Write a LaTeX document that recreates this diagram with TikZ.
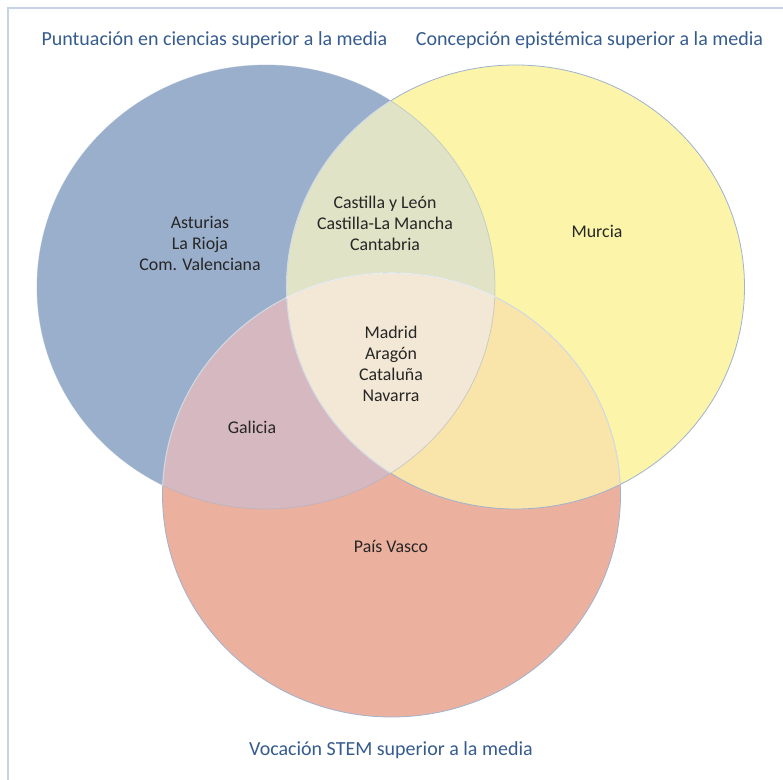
\documentclass[tikz,border=0pt]{standalone}
\usepackage{fontspec}
\setmainfont{Carlito}
\begin{document}
\begin{tikzpicture}[x=0.75pt,y=-0.75pt,
  lbl/.style={text=black!85,font=\fontsize{13.4}{15.75}\selectfont,align=center,inner sep=0pt},
  ttl/.style={text=titleblue,font=\fontsize{15}{18}\selectfont,inner sep=0pt},
  rim/.style={draw=rimcol,line width=0.6pt}]
\definecolor{titleblue}{HTML}{365C8F}
\definecolor{cB}{HTML}{9AAFCB}
\definecolor{cY}{HTML}{FCF5A9}
\definecolor{cR}{HTML}{ECB09E}
\definecolor{cBY}{HTML}{E0E3C5}
\definecolor{cBR}{HTML}{D6B9C0}
\definecolor{cYR}{HTML}{F9E4A9}
\definecolor{cBYR}{HTML}{F3E8D5}
\definecolor{rimcol}{HTML}{9FB3CE}
\definecolor{framecol}{HTML}{C8D3E6}
\useasboundingbox (0,0) rectangle (783,780);
\fill[white] (0,0) rectangle (783,780);
\draw[framecol,line width=1.2pt] (8,780) -- (8,8) -- (783,8);
\def\Bp{(266,287) ellipse [x radius=171.75pt,y radius=166.5pt]}
\def\Yp{(515.5,287) ellipse [x radius=171.75pt,y radius=166.5pt]}
\def\Rp{(391.5,495) ellipse [x radius=171.75pt,y radius=166.5pt]}
\fill[cB] \Bp;
\fill[cY] \Yp;
\fill[cR] \Rp;
\begin{scope}\clip \Bp; \fill[cBY] \Yp; \fill[cBR] \Rp; \end{scope}
\begin{scope}\clip \Yp; \fill[cYR] \Rp; \end{scope}
\begin{scope}\clip \Bp; \clip \Yp; \fill[cBYR] \Rp; \end{scope}
\draw[rim,draw opacity=0.5] \Bp;
\draw[rim] \Yp;
\draw[rim] \Rp;
\begin{scope}\clip \Bp; \draw[white,line width=0.8pt,opacity=0.5] \Yp; \draw[white,line width=0.8pt,opacity=0.5] \Rp; \end{scope}
\begin{scope}\clip \Yp; \draw[white,line width=0.8pt,opacity=0.5] \Rp; \end{scope}
\node[ttl] (t1) at (214.5,40) {Puntuación en ciencias superior a la media};
\node[ttl] (t2) at (589.5,40) {Concepción epistémica superior a la media};
\node[ttl] (t3) at (391,750) {Vocación STEM superior a la media};
\node[lbl] (a) at (200,243) {Asturias\\La Rioja\\Com. Valenciana};
\node[lbl] (c) at (385,223) {Castilla y León\\Castilla-La Mancha\\Cantabria};
\node[lbl] (m) at (597,231) {Murcia};
\node[lbl] (md) at (391,363.5) {Madrid\\Aragón\\Cataluña\\Navarra};
\node[lbl] (g) at (252,427) {Galicia};
\node[lbl] (p) at (391,546) {País Vasco};
\end{tikzpicture}
\end{document}
